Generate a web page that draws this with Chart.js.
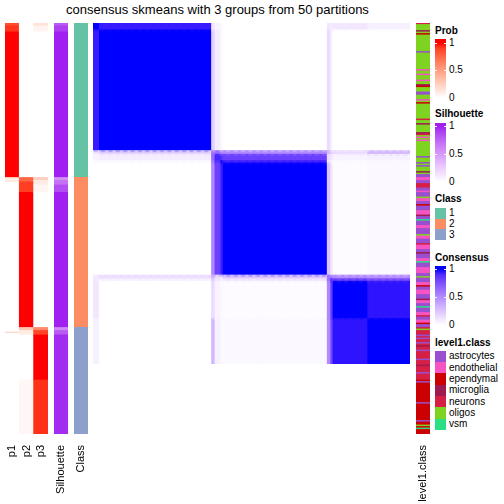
<!DOCTYPE html>
<html lang="en">
<head>
<meta charset="UTF-8">
<title>consensus skmeans with 3 groups from 50 partitions</title>
<script src="https://cdn.jsdelivr.net/npm/chart.js"></script>
<style>
  body { margin: 0; width: 504px; height: 504px; position: relative; overflow: hidden; background: #fff;
         font-family: "Liberation Sans", Arial, sans-serif; color: #000; }
  canvas { position: absolute; }
  .title { position: absolute; left: 0; top: 2px; width: 435px; text-align: center; font-size: 13px; line-height: 15px; }
  .lg-title { position: absolute; left: 435px; font-size: 10px; font-weight: bold; line-height: 12px; white-space: nowrap; }
  .lg-label { position: absolute; left: 449px; font-size: 10px; line-height: 12px; white-space: nowrap; }
  .lg-bar { position: absolute; left: 435px; width: 11px; }
  .lg-box { position: absolute; left: 435px; width: 11px; }
  .tick { position: absolute; width: 2px; height: 1px; background: rgba(255,255,255,0.9); }
</style>
</head>
<body>
<div class="title">consensus skmeans with 3 groups from 50 partitions</div>
<canvas id="probChart" width="51" height="481" style="left:1px;top:23px"></canvas>
<canvas id="silChart" width="22" height="481" style="left:50px;top:23px"></canvas>
<canvas id="classChart" width="22" height="481" style="left:70px;top:23px"></canvas>
<canvas id="consChart" width="317" height="411" style="left:93px;top:23px"></canvas>
<canvas id="lvlChart" width="22" height="481" style="left:412px;top:23px"></canvas>

<script>
// samples per consensus class (rows and columns use the same order)
const classSizes = [103, 100, 71];
const classColors = ['#66C2A5', '#FC8D62', '#8DA0CB'];

// membership probabilities, runs of [samples, value] in row order
const p1Runs = [[2, 0.85], [4, 0.92], [97, 1], [1, 0.2], [1, 0.05], [1, 0.15], [97, 0], [3, 0], [1, 0.2], [67, 0]];
const p2Runs = [[103, 0], [3, 0.75], [7, 0.9], [90, 1], [2, 0.3], [3, 0.1], [30, 0], [36, 0.04]];
const p3Runs = [[2, 0.15], [4, 0.06], [97, 0], [2, 0.25], [3, 0.1], [5, 0.05], [90, 0], [2, 0.6], [3, 0.88], [30, 1], [36, 0.93]];
const silRuns = [[2, 0.8], [4, 0.9], [97, 1], [2, 0.55], [3, 0.7], [5, 0.85], [90, 1], [2, 0.6], [3, 0.8], [66, 0.97]];

// consensus matrix: sub-blocks of samples and their pairwise consensus
const subBlockSizes = [6, 97, 3, 5, 2, 90, 3, 2, 30, 36];
const consensus = [
  [1.00, 0.95, 0.10, 0.05, 0.02, 0.00, 0.10, 0.08, 0.10, 0.06],
  [0.95, 1.00, 0.20, 0.08, 0.02, 0.00, 0.15, 0.05, 0.00, 0.00],
  [0.10, 0.20, 0.60, 0.65, 0.55, 0.52, 0.30, 0.20, 0.15, 0.30],
  [0.05, 0.08, 0.65, 0.92, 0.88, 0.82, 0.15, 0.10, 0.05, 0.06],
  [0.02, 0.02, 0.55, 0.88, 1.00, 0.94, 0.10, 0.05, 0.02, 0.03],
  [0.00, 0.00, 0.52, 0.82, 0.94, 1.00, 0.25, 0.10, 0.015, 0.03],
  [0.10, 0.15, 0.30, 0.15, 0.10, 0.25, 0.60, 0.62, 0.52, 0.50],
  [0.08, 0.05, 0.20, 0.10, 0.05, 0.10, 0.62, 0.92, 0.85, 0.80],
  [0.10, 0.00, 0.15, 0.05, 0.02, 0.015, 0.52, 0.85, 1.00, 0.965],
  [0.06, 0.00, 0.30, 0.06, 0.03, 0.03, 0.50, 0.80, 0.965, 1.00]
];

// level1.class annotation
const level1Names = ['astrocytes', 'endothelial', 'ependymal', 'microglia', 'neurons', 'oligos', 'vsm'];
const level1Codes = ['a', 'e', 'p', 'm', 'n', 'o', 'v'];
const level1Colors = ['#9A4FD0', '#F554C2', '#CC0000', '#9E1A4F', '#D61F45', '#7ED321', '#2BE082'];
const level1Runs = [
  'n1','o4','m1','o1','p1','o11','a1','o11','e1','o2','e1','o3','e1','o2','m1','p1','o3','a2','o3','e1','o1','p1',
  'o10','n1','o2','m1','o5','m1','n1','o1','e1','o1','e1','o10','a1','o3','a1','o1','a1','o3','m1','o1','a2',
  'e2','a2','n3','a2','e1','a3','o1','e2','a2','p1','a3','e3','m1','a2','v1','a3','e2','a4','o1','e2','a3','n1',
  'e3','a2','m1','a3','e2','v1','a3','e4','a2','o1','a3','e2','p1','a2','e3','a3','m1','e2','a2','v1','a3','e2',
  'n1','a2','e2','p1','a2',
  'n1','o1','n3','a1','n1','a1','n2','a1','n1','m1','n2','a1','n5','a1','n3','m1','n4','a1','n4','p1','a1','p13',
  'a1','p11','a1','p2','o1','p1','v1','p3'
];

const TOTAL = classSizes.reduce((a, b) => a + b, 0);

// colorRamp2-like white -> colour interpolation in LAB
function hexToRgb(h) { return [1, 3, 5].map(i => parseInt(h.substr(i, 2), 16)); }
function toLin(c) { c /= 255; return c <= 0.04045 ? c / 12.92 : Math.pow((c + 0.055) / 1.055, 2.4); }
function fromLin(c) {
  c = c <= 0.0031308 ? 12.92 * c : 1.055 * Math.pow(c, 1 / 2.4) - 0.055;
  return Math.round(Math.max(0, Math.min(1, c)) * 255);
}
function rgbToLab(rgb) {
  const [r, g, b] = rgb.map(toLin);
  const f = t => t > 0.008856 ? Math.cbrt(t) : 7.787 * t + 16 / 116;
  const x = f((r * 0.4124 + g * 0.3576 + b * 0.1805) / 0.95047);
  const y = f(r * 0.2126 + g * 0.7152 + b * 0.0722);
  const z = f((r * 0.0193 + g * 0.1192 + b * 0.9505) / 1.08883);
  return [116 * y - 16, 500 * (x - y), 200 * (y - z)];
}
function labToRgb([L, a, b]) {
  const fy = (L + 16) / 116, fx = a / 500 + fy, fz = fy - b / 200;
  const fi = t => t * t * t > 0.008856 ? t * t * t : (t - 16 / 116) / 7.787;
  const x = fi(fx) * 0.95047, y = fi(fy), z = fi(fz) * 1.08883;
  return [
    x * 3.2406 - y * 1.5372 - z * 0.4986,
    -x * 0.9689 + y * 1.8758 + z * 0.0415,
    x * 0.0557 - y * 0.2040 + z * 1.0570
  ].map(fromLin);
}
function ramp(hex) {
  const lo = rgbToLab([255, 255, 255]), hi = rgbToLab(hexToRgb(hex));
  const cache = {};
  return v => {
    if (cache[v]) return cache[v];
    const [r, g, b] = labToRgb(lo.map((c, i) => c + (hi[i] - c) * v));
    return (cache[v] = 'rgb(' + r + ',' + g + ',' + b + ')');
  };
}
const probColor = ramp('#FF0000');
const silColor = ramp('#A020F0');
const consColor = ramp('#0000FF');

function runsToPoints(runs, label) {
  let s = 0;
  return runs.map(([n, v]) => { const p = { x: label, y: [s, s + n], v: v }; s += n; return p; });
}

Chart.defaults.font.family = '"Liberation Sans", Arial, sans-serif';

function stripChart(id, labels, points, colorOf, showTicks, inflate) {
  return new Chart(document.getElementById(id), {
    type: 'bar',
    data: {
      labels: labels,
      datasets: [{
        data: points,
        backgroundColor: ctx => colorOf(ctx.raw),
        borderWidth: 0,
        categoryPercentage: 1,
        barPercentage: 1,
        inflateAmount: inflate,
        grouped: false
      }]
    },
    options: {
      responsive: false,
      animation: false,
      events: [],
      layout: { padding: showTicks ? { left: 4, right: 4 } : 0 },
      plugins: { legend: { display: false }, tooltip: { enabled: false } },
      scales: {
        x: {
          display: showTicks,
          grid: { display: false },
          border: { display: false },
          ticks: { minRotation: 90, maxRotation: 90, autoSkip: false, padding: 3, color: '#000', font: { size: 11 } },
          afterFit: s => { s.height = 70; s.paddingLeft = 0; s.paddingRight = 0; }
        },
        y: { display: false, min: 0, max: TOTAL, reverse: true }
      }
    }
  });
}

// probabilities
const probPoints = [].concat(runsToPoints(p1Runs, 'p1'), runsToPoints(p2Runs, 'p2'), runsToPoints(p3Runs, 'p3'));
stripChart('probChart', ['p1', 'p2', 'p3'], probPoints, r => probColor(r.v), true, 0.4);

// silhouette
stripChart('silChart', ['Silhouette'], runsToPoints(silRuns, 'Silhouette'), r => silColor(r.v), true, 0.4);

// class
const classPoints = runsToPoints(classSizes.map((n, i) => [n, i]), 'Class');
stripChart('classChart', ['Class'], classPoints, r => classColors[r.v], true, 0.4);

// consensus matrix: one column per sample, floating cells per sub-block
const blockStart = [];
let acc = 0;
subBlockSizes.forEach(n => { blockStart.push(acc); acc += n; });
const sampleLabels = Array.from({ length: TOTAL }, (_, i) => 's' + (i + 1));
const consPoints = [];
sampleLabels.forEach((lab, j) => {
  let cb = 0;
  while (cb < subBlockSizes.length - 1 && j >= blockStart[cb + 1]) cb++;
  subBlockSizes.forEach((n, b) => {
    consPoints.push({ x: lab, y: [blockStart[b], blockStart[b] + n], v: consensus[b][cb] });
  });
});
stripChart('consChart', sampleLabels, consPoints, r => consColor(r.v), false, 1);

// level1.class
const lvlPoints = [];
let ls = 0;
level1Runs.forEach(tok => {
  const n = parseInt(tok.slice(1), 10);
  lvlPoints.push({ x: 'level1.class', y: [ls, ls + n], c: level1Codes.indexOf(tok[0]) });
  ls += n;
});
stripChart('lvlChart', ['level1.class'], lvlPoints, r => level1Colors[r.c], true, 0.4);

// legends
function addDiv(cls, style, text) {
  const d = document.createElement('div');
  d.className = cls;
  Object.assign(d.style, style);
  if (text !== undefined) d.textContent = text;
  document.body.appendChild(d);
  return d;
}
function gradientLegend(title, colorOf, titleY, barTop, y1, y0) {
  addDiv('lg-title', { top: (titleY - 6) + 'px' }, title);
  const stops = [];
  for (let k = 0; k <= 10; k++) {
    const v = k / 10;
    stops.push(colorOf(v) + ' ' + (v * (y0 - y1) / (y0 - barTop) * 100).toFixed(1) + '%');
  }
  addDiv('lg-bar', { top: barTop + 'px', height: (y0 - barTop) + 'px', background: 'linear-gradient(to top, ' + stops.join(', ') + ')' });
  const ym = (y0 + y1) / 2;
  [[1, y1], [0.5, ym], [0, y0]].forEach(([v, y]) => addDiv('lg-label', { top: (y - 6) + 'px' }, String(v)));
  [y1, ym].forEach(y => {
    addDiv('tick', { left: '435px', top: Math.round(y) + 'px' });
    addDiv('tick', { left: '444px', top: Math.round(y) + 'px' });
  });
}
function discreteLegend(title, labels, colors, titleY, top, step) {
  addDiv('lg-title', { top: (titleY - 6) + 'px' }, title);
  labels.forEach((lab, i) => {
    addDiv('lg-box', { top: (top + i * step) + 'px', height: step + 'px', background: colors[i] });
    addDiv('lg-label', { top: (top + (i + 0.5) * step - 6) + 'px' }, lab);
  });
}
gradientLegend('Prob', probColor, 30.7, 39, 42.7, 97.5);
gradientLegend('Silhouette', silColor, 114.3, 122.7, 126, 181.7);
discreteLegend('Class', classSizes.map((_, i) => String(i + 1)), classColors, 199, 208, 10.7);
gradientLegend('Consensus', consColor, 258, 266, 269, 325);
discreteLegend('level1.class', level1Names, level1Colors, 342.5, 350.7, 11.35);
</script>
</body>
</html>
